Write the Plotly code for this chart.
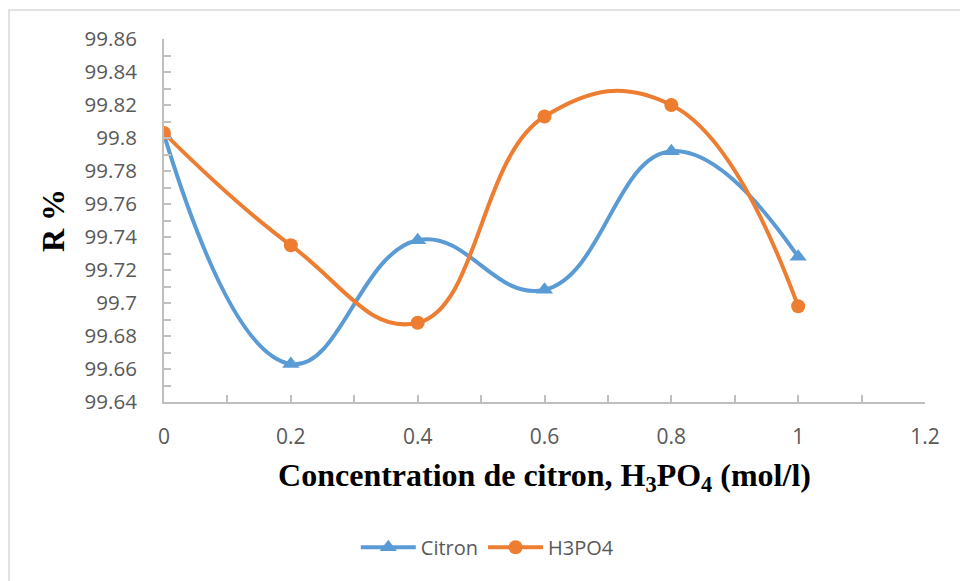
import plotly.graph_objects as go

conc = [0, 0.2, 0.4, 0.6, 0.8, 1.0]
citron = [99.802, 99.663, 99.738, 99.708, 99.792, 99.728]
h3po4 = [99.803, 99.735, 99.688, 99.813, 99.820, 99.698]

y_ticks = [99.64, 99.66, 99.68, 99.70, 99.72, 99.74, 99.76, 99.78, 99.80, 99.82, 99.84, 99.86]
y_labels = ["99.64", "99.66", "99.68", "99.7", "99.72", "99.74", "99.76", "99.78", "99.8", "99.82", "99.84", "99.86"]
x_ticks = [0, 0.2, 0.4, 0.6, 0.8, 1.0, 1.2]
x_labels = ["0", "0.2", "0.4", "0.6", "0.8", "1", "1.2"]

BLUE = "#5B9BD5"
ORANGE = "#ED7D31"
AXIS = "#BFBFBF"
TXT = "#595959"

fig = go.Figure()
fig.add_trace(go.Scatter(
    x=conc, y=citron, name="Citron", mode="lines+markers",
    line=dict(color=BLUE, width=4, shape="spline", smoothing=1.25),
    marker=dict(symbol="triangle-up", size=15, color=BLUE),
))
fig.add_trace(go.Scatter(
    x=conc, y=h3po4, name="H3PO4", mode="lines+markers",
    line=dict(color=ORANGE, width=4, shape="spline", smoothing=1.25),
    marker=dict(symbol="circle", size=14, color=ORANGE),
))

fig.update_layout(
    width=960, height=581,
    margin=dict(l=164, r=35, t=39, b=179),
    paper_bgcolor="white", plot_bgcolor="white",
    font=dict(family="Open Sans", color=TXT, size=21),
    showlegend=True,
    legend=dict(orientation="h", x=0.4255, y=-0.40, xanchor="center", yanchor="middle",
                font=dict(size=20, color=TXT), itemwidth=55, bgcolor="rgba(0,0,0,0)"),
    xaxis=dict(
        range=[0, 1.2], tickvals=x_ticks, ticktext=x_labels,
        tickfont=dict(size=21, color=TXT),
        showgrid=False, zeroline=False, showline=True, linecolor=AXIS, linewidth=2,
        ticks="inside", ticklen=7, tickcolor=AXIS, tickwidth=1.5,
        minor=dict(dtick=0.1, ticks="inside", ticklen=7, tickcolor=AXIS, tickwidth=1.5, showgrid=False),
        ticklabelstandoff=15,
        title=dict(text="Concentration de citron, H<sub>3</sub>PO<sub>4</sub> (mol/l)",
                   font=dict(family="Liberation Serif", size=32, color="black", weight="bold"),
                   standoff=14),
    ),
    yaxis=dict(
        range=[99.64, 99.86], tickvals=y_ticks, ticktext=y_labels,
        tickfont=dict(size=20.5, color=TXT),
        showgrid=False, zeroline=False, showline=True, linecolor=AXIS, linewidth=2,
        ticks="inside", ticklen=7, tickcolor=AXIS, tickwidth=1.5,
        minor=dict(dtick=0.01, ticks="inside", ticklen=7, tickcolor=AXIS, tickwidth=1.5, showgrid=False),
        ticklabelstandoff=21,
        title=dict(text="R %",
                   font=dict(family="Liberation Serif", size=32, color="black", weight="bold"),
                   standoff=10),
    ),
    shapes=[dict(type="rect", xref="paper", yref="paper",
                 x0=-0.2037, x1=1.06, y0=-0.55, y1=1.0799,
                 line=dict(color="#D9D9D9", width=1.5), fillcolor="rgba(0,0,0,0)", layer="below")],
)

fig.write_html("out.html")
